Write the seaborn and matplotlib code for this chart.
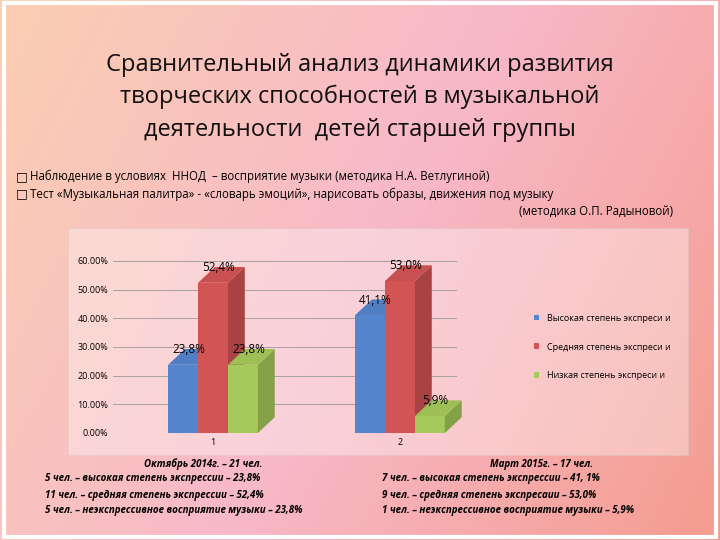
import matplotlib
matplotlib.use("Agg")
import matplotlib.pyplot as plt
import matplotlib.colors as mcolors
from matplotlib.patches import Polygon, Rectangle
from matplotlib.ticker import PercentFormatter
import numpy as np
import pandas as pd
import seaborn as sns

plt.rcParams["font.family"] = "Open Sans"

# ── data ─────────────────────────────────────────────
groups = ["1", "2"]
series = ["Высокая степень экспреси и", "Средняя степень экспреси и", "Низкая степень экспреси и"]
values_oct = [23.8, 52.4, 23.8]
values_mar = [41.1, 53.0, 5.9]
value_labels = [["23,8%", "52,4%", "23,8%"], ["41,1%", "53,0%", "5,9%"]]
colors = ["#5585CC", "#D35454", "#A5C95A"]

df = pd.DataFrame({
    "group": [groups[0]] * 3 + [groups[1]] * 3,
    "series": series * 2,
    "value": values_oct + values_mar,
})

fig = plt.figure(figsize=(7.2, 5.4), dpi=100)

# ── background gradient ──────────────────────────────
bg = fig.add_axes([0, 0, 1, 1])
yy, xx = np.mgrid[0:1:200j, 0:1:200j]
t = np.clip(0.55 * xx + 0.45 * (1 - yy), 0, 1)
cmap_bg = mcolors.LinearSegmentedColormap.from_list(
    "bg", ["#FDF3A8", "#FBD0B0", "#F8B9C8", "#F49A8A", "#F2825E"])
bg.imshow(cmap_bg(t * 0.6 + 0.4 * yy), extent=[0, 1, 0, 1], aspect="auto", origin="upper")
bg.add_patch(Rectangle((0.005, 0.005), 0.99, 0.99, fill=False, ec="white", lw=3))
bg.add_patch(Rectangle((68 / 720, 1 - 455 / 540), 620 / 720, 227 / 540,
                       fc="white", alpha=0.35, ec="#CCCCCC", lw=0.8))
bg.set_axis_off()

fig.text(0.5, 0.82, "Сравнительный анализ динамики развития\nтворческих способностей в музыкальной\n"
         "деятельности  детей старшей группы", ha="center", va="center",
         fontsize=17, linespacing=1.45, color="#111111")
fig.text(0.022, 0.667, "□", fontsize=9, family="DejaVu Sans", weight="bold")
fig.text(0.022, 0.634, "□", fontsize=9, family="DejaVu Sans", weight="bold")
fig.text(0.042, 0.667, "Наблюдение в условиях  ННОД  – восприятие музыки (методика Н.А. Ветлугиной)",
         fontsize=8.3)
fig.text(0.042, 0.634, "Тест «Музыкальная палитра» - «словарь эмоций», нарисовать образы, движения под музыку",
         fontsize=8.3)
fig.text(0.935, 0.602, "(методика О.П. Радыновой)", ha="right", fontsize=8.3)

# ── chart ────────────────────────────────────────────
ax = fig.add_axes([113 / 720, 1 - 433 / 540, 344 / 720, 172 / 540])
ax.patch.set_alpha(0)
sns.barplot(data=df, x="group", y="value", hue="series", palette=colors,
            width=0.48, saturation=1, ax=ax, legend=True)
ax.set_xlim(-0.535, 1.305)
ax.set_ylim(0, 60)
ax.set_yticks(range(0, 61, 10))
ax.yaxis.set_major_formatter(PercentFormatter(decimals=2))
ax.grid(axis="y", color="#999999", lw=0.6)
ax.set_axisbelow(True)
ax.set_xlabel("")
ax.set_ylabel("")
ax.tick_params(labelsize=6.5, length=0)
for s in ax.spines.values():
    s.set_visible(False)

dx, dy = 0.09, 5.5
for k, (bars, labs) in enumerate(zip(ax.containers, zip(*value_labels))):
    base = mcolors.to_rgb(colors[k])
    side = tuple(c * 0.8 for c in base)
    top = tuple(min(1, c * 0.95) for c in base)
    z = 2 + k
    for bar, lab in zip(bars, labs):
        bar.set_zorder(z)
        x0, w, h = bar.get_x(), bar.get_width(), bar.get_height()
        ax.add_patch(Polygon([(x0 + w, 0), (x0 + w + dx, dy), (x0 + w + dx, h + dy), (x0 + w, h)],
                             fc=side, ec="none", clip_on=False, zorder=z))
        ax.add_patch(Polygon([(x0, h), (x0 + dx, h + dy), (x0 + w + dx, h + dy), (x0 + w, h)],
                             fc=top, ec="none", clip_on=False, zorder=z))
        ax.text(x0 + w / 2 + 0.03, h + 3, lab, ha="center", va="bottom", fontsize=8.5, zorder=10)

ax.legend(loc="center left", bbox_to_anchor=(1.2, 0.5), frameon=False,
          fontsize=6.5, handlelength=0.6, handleheight=0.6, labelspacing=2.2)

# ── captions ─────────────────────────────────────────
left = ["Октябрь 2014г. – 21 чел.",
        "5 чел. – высокая степень экспрессии – 23,8%",
        "11 чел. – средняя степень экспрессии – 52,4%",
        "5 чел. – неэкспрессивное восприятие музыки – 23,8%"]
right = ["Март 2015г. – 17 чел.",
         "7 чел. – высокая степень экспрессии – 41, 1%",
         "9 чел. – средняя степень экспресаии – 53,0%",
         "1 чел. – неэкспрессивное восприятие музыки – 5,9%"]
fig.text(0.20, 1 - 464 / 540, left[0], fontsize=7, style="italic", weight="bold", va="center")
fig.text(0.68, 1 - 464 / 540, right[0], fontsize=7, style="italic", weight="bold", va="center")
for i in range(1, 4):
    y = 1 - (463 + i * 16) / 540
    fig.text(0.062, y, left[i], fontsize=7, style="italic", weight="bold", va="center")
    fig.text(0.53, y, right[i], fontsize=7, style="italic", weight="bold", va="center")

fig.savefig("out.png", dpi=100)
